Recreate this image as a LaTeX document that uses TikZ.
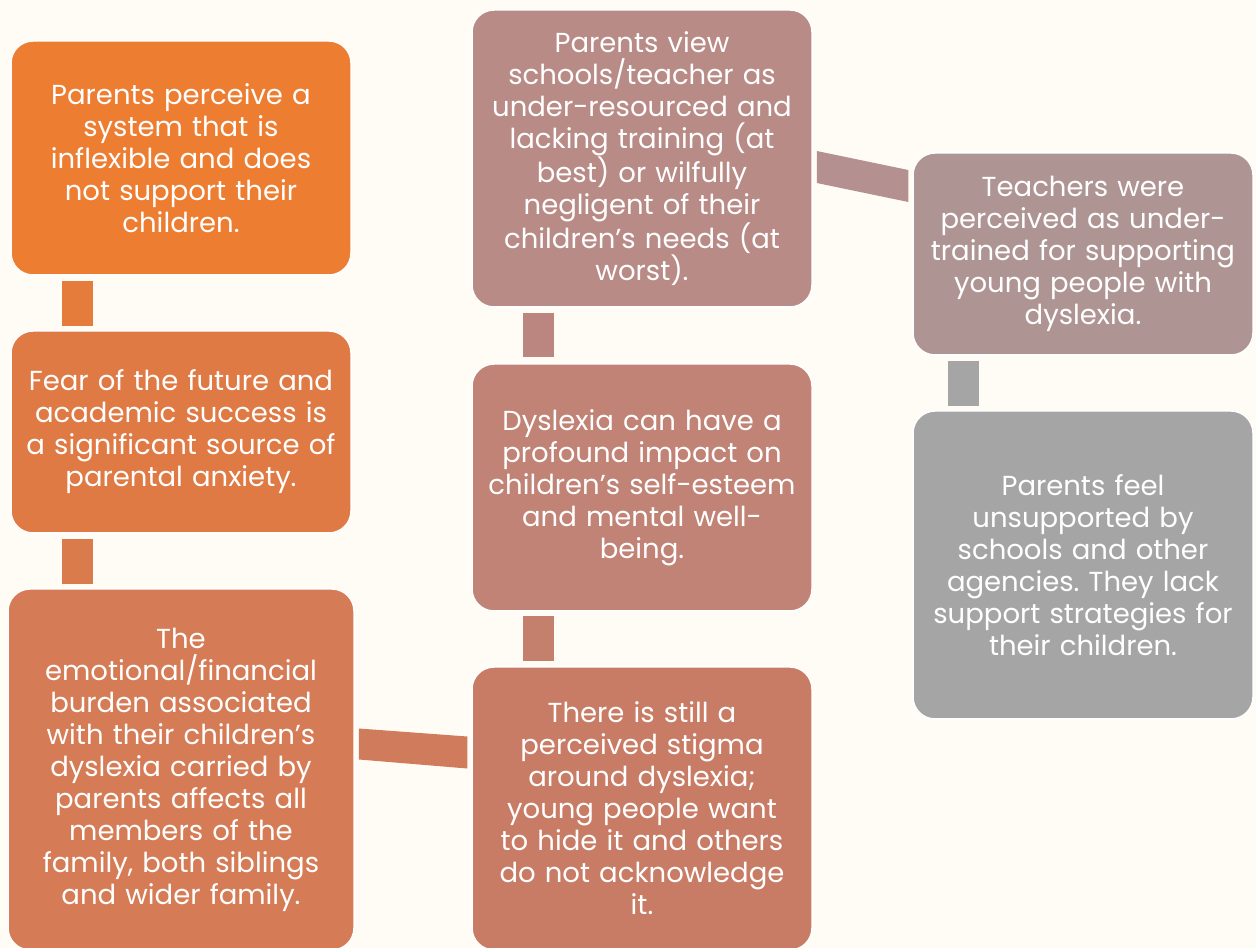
\documentclass[tikz,border=0pt]{standalone}
\usepackage{fontspec}
\setmainfont{Poppins}
\usetikzlibrary{calc}
\frenchspacing
\definecolor{bg}{HTML}{FFFCF5}
\definecolor{cA}{HTML}{ED7D31}
\definecolor{kA}{HTML}{E57C3B}
\definecolor{cB}{HTML}{E07A45}
\definecolor{kB}{HTML}{DA7B4C}
\definecolor{cC}{HTML}{D57C56}
\definecolor{kC}{HTML}{D07B5C}
\definecolor{cD}{HTML}{C97C65}
\definecolor{kD}{HTML}{C47F6D}
\definecolor{cE}{HTML}{C08376}
\definecolor{kE}{HTML}{BC8680}
\definecolor{cF}{HTML}{B88B87}
\definecolor{kF}{HTML}{B49190}
\definecolor{cG}{HTML}{AE9594}
\definecolor{kG}{HTML}{A5A5A5}
\definecolor{cH}{HTML}{A5A5A5}
\tikzset{
  box/.style={draw=white, line width=1.5pt, rounded corners=22pt, text=white,
    align=center, inner sep=0pt, font=\fontsize{27.5}{32}\selectfont\frenchspacing},
  bar/.style={line width=31pt}
}
\begin{document}
\begin{tikzpicture}[x=1pt,y=1pt]
\fill[bg] (0,0) rectangle (1256,948);
\useasboundingbox (0,0) rectangle (1256,948);
\begin{scope}
\clip (0,0) rectangle (1256,948);
\node[box, fill=cA, minimum width=340pt, minimum height=234pt, text width=334pt] (b1) at (181,790)
  {Parents perceive a\\ system that is\\ inflexible and does\\ not support their\\ children.};
\node[box, fill=cB, minimum width=340pt, minimum height=202pt, text width=334pt] (b2) at (181,516)
  {Fear of the future and\\ academic success is\\ a significant source of\\ parental anxiety.};
\node[box, fill=cC, minimum width=346pt, minimum height=361pt, text width=340pt] (b3) at (181,178.5)
  {The\\ emotional/financial\\ burden associated\\ with their children’s\\ dyslexia carried by\\ parents affects all\\ members of the\\ family, both siblings\\ and wider family.};
\node[box, fill=cD, minimum width=340pt, minimum height=283pt, text width=334pt] (b4) at (642,139.5)
  {There is still a\\ perceived stigma\\ around dyslexia;\\ young people want\\ to hide it and others\\ do not acknowledge\\ it.};
\node[box, fill=cE, minimum width=340pt, minimum height=247pt, text width=334pt] (b5) at (642,460.5)
  {Dyslexia can have a\\ profound impact on\\ children’s self-esteem\\ and mental well-\\ being.};
\node[box, fill=cF, minimum width=340pt, minimum height=297pt, text width=334pt] (b6) at (642,789.5)
  {Parents view\\ schools/teacher as\\ under-resourced and\\ lacking training (at\\ best) or wilfully\\ negligent of their\\ children’s needs (at\\ worst).};
\node[box, fill=cG, minimum width=340pt, minimum height=202pt, text width=334pt] (b7) at (1083,694)
  {Teachers were\\ perceived as under-\\ trained for supporting\\ young people with\\ dyslexia.};
\node[box, fill=cH, minimum width=340pt, minimum height=308pt, text width=334pt] (b8) at (1083,383)
  {Parents feel\\ unsupported by\\ schools and other\\ agencies. They lack\\ support strategies for\\ their children.};
% vertical bars
\draw[bar, kA] ($(b1.south west)+(67.5,-5)$) -- ($(b2.north west)+(67.5,4)$);
\draw[bar, kB] ($(b2.south west)+(67.5,-5)$) -- ($(b3.north west)+(70.5,4)$);
\draw[bar, kD] ($(b5.south west)+(67.5,-4)$) -- ($(b4.north west)+(67.5,5)$);
\draw[bar, kE] ($(b6.south west)+(67.5,-5)$) -- ($(b5.north west)+(67.5,6)$);
\draw[bar, kG] ($(b7.south west)+(51.5,-5)$) -- ($(b8.north west)+(51.5,4)$);
% slanted bars
\fill[kC] ($(b3.east)+(4,41)$) -- ($(b4.west)+(-4,72)$) -- ($(b4.west)+(-4,40)$) -- ($(b3.east)+(4,10)$) -- cycle;
\fill[kF] ($(b6.east)+(4,7.5)$) -- ($(b7.west)+(-4,84)$) -- ($(b7.west)+(-4,52)$) -- ($(b6.east)+(4,-24.5)$) -- cycle;
\end{scope}
\end{tikzpicture}
\end{document}
